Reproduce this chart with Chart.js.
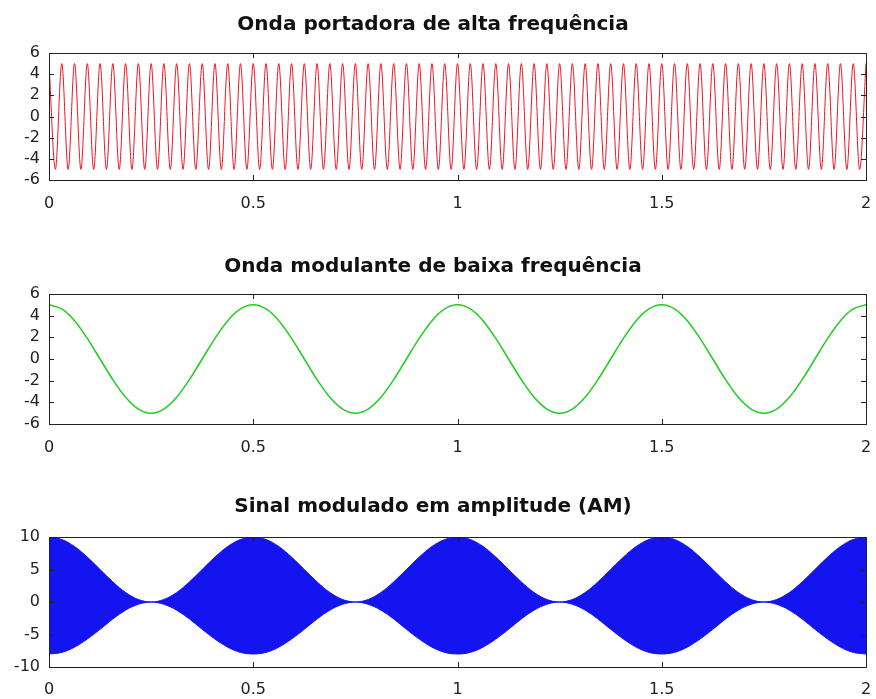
<!DOCTYPE html>
<html>
<head>
<meta charset="utf-8">
<script src="https://cdn.jsdelivr.net/npm/chart.js@4/dist/chart.umd.min.js"></script>
<style>
  html, body { margin: 0; padding: 0; background: #fff; }
  body { width: 876px; height: 699px; position: relative; overflow: hidden; }
  .panel { position: absolute; left: 0; width: 876px; }
</style>
</head>
<body>
<div class="panel" style="top:0;height:220px"><canvas id="carrier"></canvas></div>
<div class="panel" style="top:220px;height:244px"><canvas id="modulating"></canvas></div>
<div class="panel" style="top:464px;height:235px"><canvas id="am"></canvas></div>
<script>
// sample times for the carrier (peaks and troughs)
const tFine = [
  0, 0.015625, 0.03125, 0.046875, 0.0625, 0.078125, 0.09375, 0.109375,
  0.125, 0.140625, 0.15625, 0.171875, 0.1875, 0.203125, 0.21875, 0.234375,
  0.25, 0.265625, 0.28125, 0.296875, 0.3125, 0.328125, 0.34375, 0.359375,
  0.375, 0.390625, 0.40625, 0.421875, 0.4375, 0.453125, 0.46875, 0.484375,
  0.5, 0.515625, 0.53125, 0.546875, 0.5625, 0.578125, 0.59375, 0.609375,
  0.625, 0.640625, 0.65625, 0.671875, 0.6875, 0.703125, 0.71875, 0.734375,
  0.75, 0.765625, 0.78125, 0.796875, 0.8125, 0.828125, 0.84375, 0.859375,
  0.875, 0.890625, 0.90625, 0.921875, 0.9375, 0.953125, 0.96875, 0.984375,
  1, 1.015625, 1.03125, 1.046875, 1.0625, 1.078125, 1.09375, 1.109375,
  1.125, 1.140625, 1.15625, 1.171875, 1.1875, 1.203125, 1.21875, 1.234375,
  1.25, 1.265625, 1.28125, 1.296875, 1.3125, 1.328125, 1.34375, 1.359375,
  1.375, 1.390625, 1.40625, 1.421875, 1.4375, 1.453125, 1.46875, 1.484375,
  1.5, 1.515625, 1.53125, 1.546875, 1.5625, 1.578125, 1.59375, 1.609375,
  1.625, 1.640625, 1.65625, 1.671875, 1.6875, 1.703125, 1.71875, 1.734375,
  1.75, 1.765625, 1.78125, 1.796875, 1.8125, 1.828125, 1.84375, 1.859375,
  1.875, 1.890625, 1.90625, 1.921875, 1.9375, 1.953125, 1.96875, 1.984375,
  2
];
const carrierV = [
  5, -5, 5, -5, 5, -5, 5, -5,  5, -5, 5, -5, 5, -5, 5, -5,
  5, -5, 5, -5, 5, -5, 5, -5,  5, -5, 5, -5, 5, -5, 5, -5,
  5, -5, 5, -5, 5, -5, 5, -5,  5, -5, 5, -5, 5, -5, 5, -5,
  5, -5, 5, -5, 5, -5, 5, -5,  5, -5, 5, -5, 5, -5, 5, -5,
  5, -5, 5, -5, 5, -5, 5, -5,  5, -5, 5, -5, 5, -5, 5, -5,
  5, -5, 5, -5, 5, -5, 5, -5,  5, -5, 5, -5, 5, -5, 5, -5,
  5, -5, 5, -5, 5, -5, 5, -5,  5, -5, 5, -5, 5, -5, 5, -5,
  5, -5, 5, -5, 5, -5, 5, -5,  5, -5, 5, -5, 5, -5, 5, -5,
  5
];

// sample times for the slow curves
const tCoarse = [
  0, 0.03125, 0.0625, 0.09375, 0.125, 0.15625, 0.1875, 0.21875,
  0.25, 0.28125, 0.3125, 0.34375, 0.375, 0.40625, 0.4375, 0.46875,
  0.5, 0.53125, 0.5625, 0.59375, 0.625, 0.65625, 0.6875, 0.71875,
  0.75, 0.78125, 0.8125, 0.84375, 0.875, 0.90625, 0.9375, 0.96875,
  1, 1.03125, 1.0625, 1.09375, 1.125, 1.15625, 1.1875, 1.21875,
  1.25, 1.28125, 1.3125, 1.34375, 1.375, 1.40625, 1.4375, 1.46875,
  1.5, 1.53125, 1.5625, 1.59375, 1.625, 1.65625, 1.6875, 1.71875,
  1.75, 1.78125, 1.8125, 1.84375, 1.875, 1.90625, 1.9375, 1.96875,
  2
];
const modV = [
  5, 4.62, 3.54, 1.91, 0, -1.91, -3.54, -4.62, -5, -4.62, -3.54, -1.91, 0, 1.91, 3.54, 4.62,
  5, 4.62, 3.54, 1.91, 0, -1.91, -3.54, -4.62, -5, -4.62, -3.54, -1.91, 0, 1.91, 3.54, 4.62,
  5, 4.62, 3.54, 1.91, 0, -1.91, -3.54, -4.62, -5, -4.62, -3.54, -1.91, 0, 1.91, 3.54, 4.62,
  5, 4.62, 3.54, 1.91, 0, -1.91, -3.54, -4.62, -5, -4.62, -3.54, -1.91, 0, 1.91, 3.54, 4.62,
  5
];
// envelope of the AM signal (upper and lower edge of the blue band)
const amUpper = [
  10, 9.62, 8.54, 6.91, 5, 3.09, 1.46, 0.38, 0, 0.38, 1.46, 3.09, 5, 6.91, 8.54, 9.62,
  10, 9.62, 8.54, 6.91, 5, 3.09, 1.46, 0.38, 0, 0.38, 1.46, 3.09, 5, 6.91, 8.54, 9.62,
  10, 9.62, 8.54, 6.91, 5, 3.09, 1.46, 0.38, 0, 0.38, 1.46, 3.09, 5, 6.91, 8.54, 9.62,
  10, 9.62, 8.54, 6.91, 5, 3.09, 1.46, 0.38, 0, 0.38, 1.46, 3.09, 5, 6.91, 8.54, 9.62,
  10
];
const amLower = [
  -8, -7.75, -6.95, -5.7, -4.2, -2.6, -1.25, -0.35, 0, -0.35, -1.25, -2.6, -4.2, -5.7, -6.95, -7.75,
  -8, -7.75, -6.95, -5.7, -4.2, -2.6, -1.25, -0.35, 0, -0.35, -1.25, -2.6, -4.2, -5.7, -6.95, -7.75,
  -8, -7.75, -6.95, -5.7, -4.2, -2.6, -1.25, -0.35, 0, -0.35, -1.25, -2.6, -4.2, -5.7, -6.95, -7.75,
  -8, -7.75, -6.95, -5.7, -4.2, -2.6, -1.25, -0.35, 0, -0.35, -1.25, -2.6, -4.2, -5.7, -6.95, -7.75,
  -8
];

const xTicks = [0, 0.5, 1, 1.5, 2];
const yTicksWave = [-6, -4, -2, 0, 2, 4, 6];
const yTicksAM = [-10, -5, 0, 5, 10];

const pts = (xs, ys) => xs.map((x, i) => ({ x: x, y: ys[i] }));

// box frame with inward ticks on all four sides (octave style)
const frameTicks = {
  id: 'frameTicks',
  afterDatasetsDraw(chart) {
    const { ctx, chartArea: a, scales } = chart;
    const len = 5;
    ctx.save();
    ctx.strokeStyle = '#222';
    ctx.lineWidth = 1;
    ctx.beginPath();
    scales.x.ticks.forEach(t => {
      const px = Math.round(scales.x.getPixelForValue(t.value)) + 0.5;
      ctx.moveTo(px, a.bottom); ctx.lineTo(px, a.bottom - len);
      ctx.moveTo(px, a.top); ctx.lineTo(px, a.top + len);
    });
    scales.y.ticks.forEach(t => {
      const py = Math.round(scales.y.getPixelForValue(t.value)) + 0.5;
      ctx.moveTo(a.left, py); ctx.lineTo(a.left + len, py);
      ctx.moveTo(a.right, py); ctx.lineTo(a.right - len, py);
    });
    ctx.stroke();
    ctx.strokeRect(Math.round(a.left) + 0.5, Math.round(a.top) + 0.5,
                   Math.round(a.right - a.left), Math.round(a.bottom - a.top));
    ctx.restore();
  }
};

const FONT = 'DejaVu Sans, Verdana, sans-serif';

function makeChart(id, title, titlePad, yTicks, xPad, xHeight, datasets) {
  return new Chart(document.getElementById(id), {
    type: 'line',
    data: { datasets },
    plugins: [frameTicks],
    options: {
      responsive: true,
      maintainAspectRatio: false,
      animation: false,
      events: [],
      layout: { padding: { left: 0, right: 10, top: 0, bottom: 0 } },
      elements: { point: { radius: 0 } },
      plugins: {
        legend: { display: false },
        tooltip: { enabled: false },
        title: {
          display: true,
          text: title,
          color: '#111',
          font: { family: FONT, size: 20, weight: 'bold' },
          padding: titlePad
        }
      },
      scales: {
        x: {
          type: 'linear',
          min: 0, max: 2,
          afterBuildTicks: s => { s.ticks = xTicks.map(v => ({ value: v })); },
          afterFit: s => { s.height = xHeight; s.paddingLeft = 0; s.paddingRight = 0; },
          grid: { display: false, drawTicks: false },
          border: { display: false },
          ticks: {
            color: '#222', padding: xPad, maxRotation: 0, autoSkip: false,
            font: { family: FONT, size: 16 },
            callback: v => String(v)
          }
        },
        y: {
          min: yTicks[0], max: yTicks[yTicks.length - 1],
          afterBuildTicks: s => { s.ticks = yTicks.map(v => ({ value: v })); },
          afterFit: s => { s.width = 49; s.paddingTop = 0; s.paddingBottom = 0; },
          grid: { display: false, drawTicks: false },
          border: { display: false },
          ticks: {
            color: '#222', padding: 9, autoSkip: false,
            font: { family: FONT, size: 16 },
            callback: v => String(v)
          }
        }
      }
    }
  });
}

makeChart('carrier', 'Onda portadora de alta frequência', { top: 13, bottom: 16 }, yTicksWave, 14, 40, [{
  data: pts(tFine, carrierV),
  borderColor: '#f01020',
  borderWidth: 1,
  cubicInterpolationMode: 'monotone',
  fill: false
}]);

makeChart('modulating', 'Onda modulante de baixa frequência', { top: 35, bottom: 15 }, yTicksWave, 14, 40, [{
  data: pts(tCoarse, modV),
  borderColor: '#22cc22',
  borderWidth: 1.5,
  cubicInterpolationMode: 'monotone',
  fill: false
}]);

makeChart('am', 'Sinal modulado em amplitude (AM)', { top: 31, bottom: 18 }, yTicksAM, 13, 32, [
  {
    data: pts(tCoarse, amUpper),
    borderColor: '#1010ff',
    backgroundColor: '#1414f0',
    borderWidth: 1,
    cubicInterpolationMode: 'monotone',
    fill: '+1'
  },
  {
    data: pts(tCoarse, amLower),
    borderColor: '#1010ff',
    borderWidth: 1,
    cubicInterpolationMode: 'monotone',
    fill: false
  }
]);
</script>
</body>
</html>
